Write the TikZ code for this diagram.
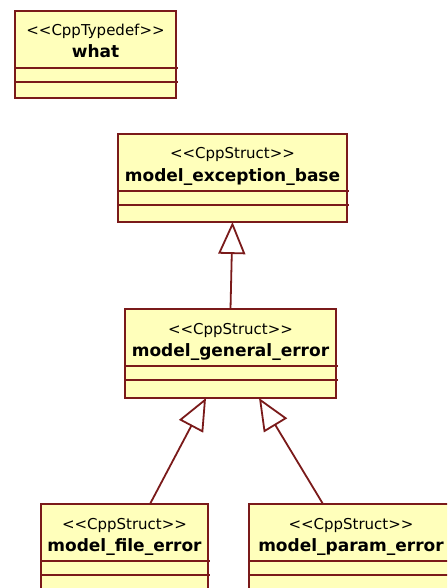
\documentclass[tikz,border=0pt]{standalone}
\usepackage{fontspec}
\setmainfont{DejaVu Sans}[Ligatures=TeXOff]
\usetikzlibrary{arrows.meta,calc}

\definecolor{umlfill}{RGB}{255,255,187}
\definecolor{umlline}{RGB}{122,26,26}

\tikzset{
  classbox/.style={draw=umlline, fill=umlfill, line width=1.8pt, inner sep=0pt, outer sep=0pt, anchor=north west},
  stereotext/.style={anchor=base, inner sep=0pt, font=\fontsize{15}{18}\selectfont},
  nametext/.style={anchor=base, inner sep=0pt, font=\fontsize{17}{20}\selectfont\bfseries},
  compsep/.style={draw=umlline, line width=1.8pt},
  inherit/.style={draw=umlline, line width=1.8pt,
    -{Triangle[length=32pt, width=27pt, fill=white, line width=1.8pt]}}
}

% \umlclass{id}{left}{top}{width}{height}{stereotype}{name}
\newcommand{\umlclass}[7]{%
  \node[classbox, minimum width=#4pt, minimum height=#5pt] (#1) at (#2,-#3) {};
  \node[stereotext] (#1-st) at ($(#1.north)+(0,-25)$) {#6};
  \node[nametext] (#1-nm) at ($(#1.north)+(0,-47)$) {#7};
  \draw[compsep] ($(#1.north west)+(0,-57)$) -- ($(#1.north east)+(2,-57)$);
  \draw[compsep] ($(#1.north west)+(0,-71)$) -- ($(#1.north east)+(2,-71)$);
}

\begin{document}
\begin{tikzpicture}[x=1pt, y=1pt]
  \useasboundingbox (0,0) rectangle (447,-588);
  \clip (0,0) rectangle (447,-588);

  \umlclass{what}{15}{11}{161}{87}{<<CppTypedef>>}{what}
  \umlclass{base}{118}{134}{229}{88}{<<CppStruct>>}{model\_exception\_base}
  \umlclass{general}{125}{309}{211}{89}{<<CppStruct>>}{model\_general\_error}
  \umlclass{file}{41}{504}{167}{90}{<<CppStruct>>}{model\_file\_error}
  \umlclass{param}{249}{504}{204}{90}{<<CppStruct>>}{model\_param\_error}

  % generalisation links
  \draw[inherit] (general.north) -- (base.south);
  \draw[inherit] ([xshift=25.5pt]file.north) -- ([xshift=-24.5pt]general.south);
  \draw[inherit] ([xshift=-28pt]param.north) -- ([xshift=28.5pt]general.south);
\end{tikzpicture}
\end{document}
